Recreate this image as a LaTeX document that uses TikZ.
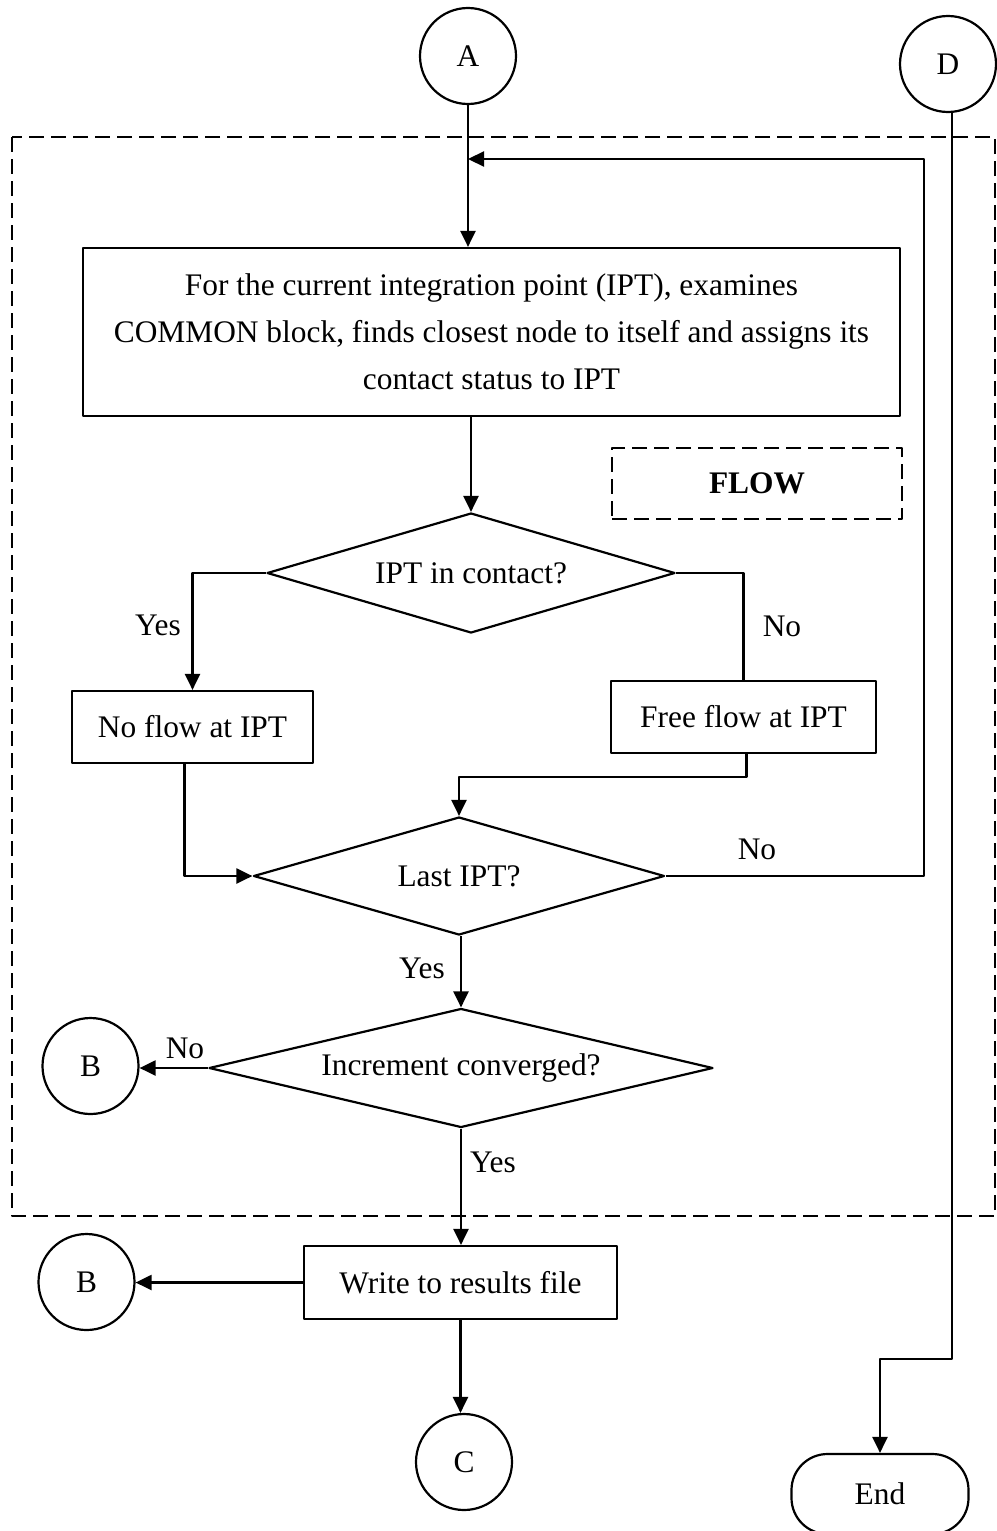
\documentclass[tikz,border=0pt]{standalone}
\usepackage{fontspec}
\setmainfont{Liberation Serif}
\usetikzlibrary{shapes.geometric,arrows.meta}
\def\px{0.5pt}
\tikzset{
  stepbox/.style={draw, rectangle, inner sep=0pt, align=center},
  decision/.style={draw, diamond, inner sep=0pt, aspect=3.4},
  connector/.style={draw, circle, inner sep=0pt, minimum size=96*\px},
  terminal/.style={draw, rectangle, rounded corners=18pt, inner sep=0pt},
  frame/.style={line width=0.8pt, dash pattern=on 7.5pt off 3.5pt},
  lbl/.style={inner sep=0pt},
}
\begin{document}
\begin{tikzpicture}[x=0.5pt, y=-0.5pt, line width=1.1pt, line join=round, font=\fontsize{15.7}{23.5}\selectfont, >={Triangle[length=8pt,width=7.5pt]}]
\useasboundingbox (0,0) rectangle (996,1531);
% dashed frame round the FLOW loop
\draw[frame] (12,137) rectangle (995,1216);
\node[connector] (A) at (468,56) {A};
\node[connector] (D) at (948,64) {D};
\node[stepbox, minimum width=817*\px, minimum height=168*\px] (scan) at (491.5,332) {For the current integration point (IPT), examines\\COMMON block, finds closest node to itself and assigns its\\contact status to IPT};
\node[stepbox, frame, minimum width=290*\px, minimum height=71*\px] (flow) at (757,483.5) {\textbf{FLOW}};
\node[decision, minimum width=408*\px, minimum height=120*\px] (contact) at (471,573) {IPT in contact?};
\node[stepbox, minimum width=241*\px, minimum height=72*\px] (noflow) at (192.5,727) {No flow at IPT};
\node[stepbox, minimum width=265*\px, minimum height=72*\px] (freeflow) at (743.5,717) {Free flow at IPT};
\node[decision, minimum width=411*\px, minimum height=118*\px] (last) at (459,876) {Last IPT?};
\node[decision, aspect=4, minimum width=504*\px, minimum height=119*\px] (conv) at (461,1068) {Increment converged?};
\node[connector] (B1) at (90.5,1066) {B};
\node[stepbox, minimum width=313*\px, minimum height=73*\px] (write) at (460.5,1282.5) {Write to results file};
\node[connector] (B2) at (86.5,1282) {B};
\node[connector] (C) at (464,1462) {C};
\node[terminal, minimum width=177*\px, minimum height=80*\px] (stop) at (880,1494) {End};
\coordinate (back) at (924,159);
\coordinate (turn) at (952,1359);
% connectors
\draw[->] (A.south) -- (A.south |- scan.north);
\draw[->] (contact.north |- scan.south) -- (contact.north);
\draw[->] (contact.west) -| (noflow.north);
\draw (contact.east) -| (freeflow.north);
\draw[->] ([xshift=-8*\px]noflow.south) |- (last.west);
\draw[->] ([xshift=3*\px]freeflow.south) -- ++(0,23) -| (last.north);
\draw[->] (last.east) -| (back) -- (A.south |- back);
\draw[->] (conv.north |- last.south) -- (conv.north);
\draw[->] (conv.west) -- (conv.west -| B1.east);
\draw[->] (conv.south) -- (conv.south |- write.north);
\draw[->] (write.west) -- (write.west -| B2.east);
\draw[->] (write.south) -- (write.south |- C.north);
\draw[->] (D.south -| turn) -- (turn) -| (stop.north);
% branch labels
\node[lbl] (yes1) at (158,625) {Yes};
\node[lbl] (no1) at (782,626) {No};
\node[lbl] (no2) at (757,849) {No};
\node[lbl] (yes2) at (422,968) {Yes};
\node[lbl] (no3) at (185,1048) {No};
\node[lbl] (yes3) at (493,1162) {Yes};
\end{tikzpicture}
\end{document}
